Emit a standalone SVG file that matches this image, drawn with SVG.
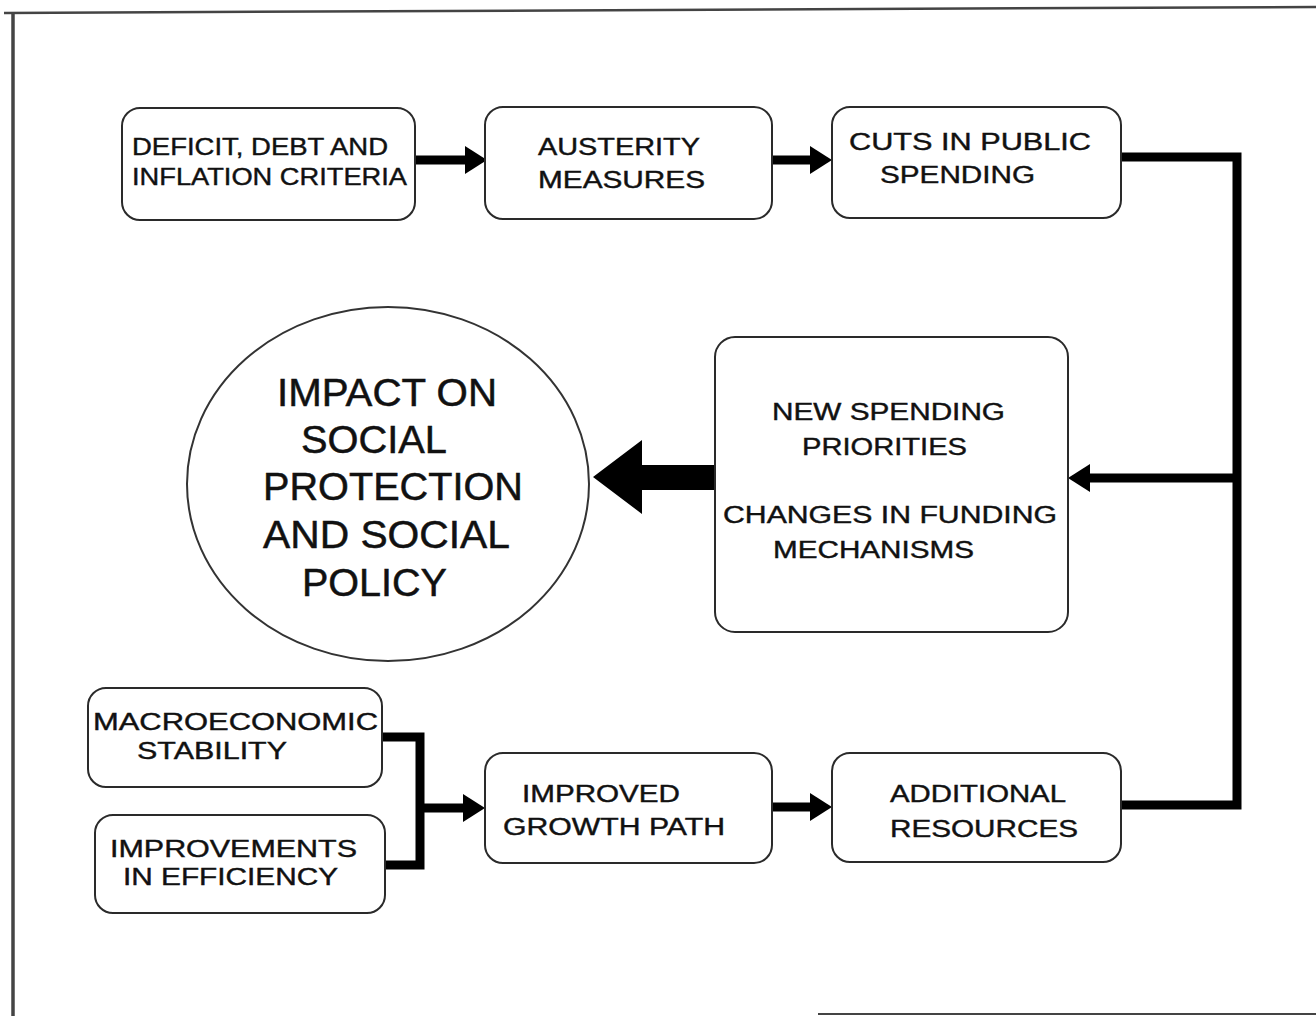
<svg xmlns="http://www.w3.org/2000/svg" width="1316" height="1016" viewBox="0 0 1316 1016">
  <style>
    .box { fill: #ffffff; stroke: #2a2a2a; stroke-width: 2; }
    .oval { fill: #ffffff; stroke: #333333; stroke-width: 2; }
    .lbl { font-family: "Liberation Sans", Arial, sans-serif; fill: #111111; stroke: #111111; stroke-width: 0.4; font-size: 23px; }
    .big { font-size: 39px; stroke-width: 0.5; }
    .wire { fill: none; stroke: #000000; stroke-width: 9; stroke-linejoin: miter; stroke-linecap: butt; }
    .frame { fill: none; stroke: #444444; }
  </style>
  <defs>
    <marker id="head" viewBox="0 0 22 28" refX="0" refY="14" markerWidth="22" markerHeight="28" markerUnits="userSpaceOnUse" orient="auto">
      <path d="M0,0 L22,14 L0,28 Z" fill="#000000"/>
    </marker>
  </defs>

  <rect width="1316" height="1016" fill="#ffffff"/>

  <!-- page frame -->
  <g id="frame">
    <path class="frame" d="M4,13 L1316,7" stroke-width="2.5" stroke="#666666"/>
    <path class="frame" d="M13,12 V1016" stroke-width="3.5" stroke="#111111"/>
    <path class="frame" d="M818,1014 H1316" stroke-width="2" stroke="#666666"/>
  </g>

  <!-- connectors -->
  <g id="connectors">
    <path class="wire" d="M415,160 H465" marker-end="url(#head)"/>
    <path class="wire" d="M772,160 H810" marker-end="url(#head)"/>
    <path class="wire" d="M1121,157 H1237 V805 H1121"/>
    <path class="wire" d="M1237,478 H1090" marker-end="url(#head)"/>
    <path d="M716,465 H642 V440 L593,477 L642,514 V490 H716 Z" fill="#000000"/>
    <path class="wire" d="M382,737 H420 V865 H385"/>
    <path class="wire" d="M420,808 H463" marker-end="url(#head)"/>
    <path class="wire" d="M772,807 H810" marker-end="url(#head)"/>
  </g>

  <g id="deficit">
    <rect class="box" x="122" y="108" width="293" height="112" rx="18"/>
    <text class="lbl" x="132" y="155" font-size="24" textLength="256" lengthAdjust="spacingAndGlyphs">DEFICIT, DEBT AND</text>
    <text class="lbl" x="132" y="185" font-size="24" textLength="275" lengthAdjust="spacingAndGlyphs">INFLATION CRITERIA</text>
  </g>

  <g id="austerity">
    <rect class="box" x="485" y="107" width="287" height="112" rx="18"/>
    <text class="lbl" x="538" y="155" font-size="27" textLength="162" lengthAdjust="spacingAndGlyphs">AUSTERITY</text>
    <text class="lbl" x="538" y="188" font-size="27" textLength="167" lengthAdjust="spacingAndGlyphs">MEASURES</text>
  </g>

  <g id="cuts">
    <rect class="box" x="832" y="107" width="289" height="111" rx="18"/>
    <text class="lbl" x="849" y="150" font-size="26" textLength="242" lengthAdjust="spacingAndGlyphs">CUTS IN PUBLIC</text>
    <text class="lbl" x="880" y="183" font-size="26" textLength="155" lengthAdjust="spacingAndGlyphs">SPENDING</text>
  </g>

  <g id="priorities">
    <rect class="box" x="715" y="337" width="353" height="295" rx="20"/>
    <text class="lbl" x="772" y="420" font-size="27" textLength="233" lengthAdjust="spacingAndGlyphs">NEW SPENDING</text>
    <text class="lbl" x="802" y="455" font-size="27" textLength="165" lengthAdjust="spacingAndGlyphs">PRIORITIES</text>
    <text class="lbl" x="723" y="523" font-size="27" textLength="334" lengthAdjust="spacingAndGlyphs">CHANGES IN FUNDING</text>
    <text class="lbl" x="773" y="558" font-size="27" textLength="201" lengthAdjust="spacingAndGlyphs">MECHANISMS</text>
  </g>

  <g id="impact">
    <ellipse class="oval" cx="388" cy="484" rx="201" ry="177"/>
    <text class="lbl big" x="277" y="406" textLength="220" lengthAdjust="spacingAndGlyphs">IMPACT ON</text>
    <text class="lbl big" x="301" y="453" textLength="146" lengthAdjust="spacingAndGlyphs">SOCIAL</text>
    <text class="lbl big" x="263" y="500" textLength="260" lengthAdjust="spacingAndGlyphs">PROTECTION</text>
    <text class="lbl big" x="263" y="548" textLength="247" lengthAdjust="spacingAndGlyphs">AND SOCIAL</text>
    <text class="lbl big" x="302" y="596" textLength="145" lengthAdjust="spacingAndGlyphs">POLICY</text>
  </g>

  <g id="stability">
    <rect class="box" x="88" y="688" width="294" height="99" rx="18"/>
    <text class="lbl" x="93" y="730" font-size="22" textLength="285" lengthAdjust="spacingAndGlyphs">MACROECONOMIC</text>
    <text class="lbl" x="137" y="759" font-size="22" textLength="150" lengthAdjust="spacingAndGlyphs">STABILITY</text>
  </g>

  <g id="efficiency">
    <rect class="box" x="95" y="815" width="290" height="98" rx="18"/>
    <text class="lbl" x="110" y="857" font-size="23" textLength="247" lengthAdjust="spacingAndGlyphs">IMPROVEMENTS</text>
    <text class="lbl" x="123" y="885" font-size="23" textLength="215" lengthAdjust="spacingAndGlyphs">IN EFFICIENCY</text>
  </g>

  <g id="growth">
    <rect class="box" x="485" y="753" width="287" height="110" rx="18"/>
    <text class="lbl" x="522" y="802" font-size="26" textLength="158" lengthAdjust="spacingAndGlyphs">IMPROVED</text>
    <text class="lbl" x="503" y="835" font-size="26" textLength="222" lengthAdjust="spacingAndGlyphs">GROWTH PATH</text>
  </g>

  <g id="resources">
    <rect class="box" x="832" y="753" width="289" height="109" rx="18"/>
    <text class="lbl" x="890" y="802" font-size="26" textLength="176" lengthAdjust="spacingAndGlyphs">ADDITIONAL</text>
    <text class="lbl" x="890" y="837" font-size="26" textLength="188" lengthAdjust="spacingAndGlyphs">RESOURCES</text>
  </g>
</svg>
